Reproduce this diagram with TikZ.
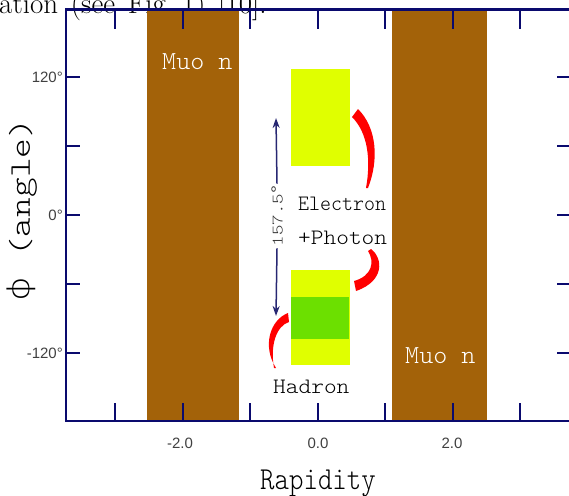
\documentclass[tikz,border=0pt]{standalone}
\usepackage{fontspec}
\usepackage{graphicx}
\newfontfamily\sansf{Liberation Sans}
\newfontfamily\dejavlt{DejaVu Sans ExtraLight}
\newfontfamily\lmlight{Latin Modern Mono Light}
\usetikzlibrary{arrows.meta}
\definecolor{muonbrown}{RGB}{163,98,9}
\definecolor{emyellow}{RGB}{224,255,0}
\definecolor{hadgreen}{RGB}{108,224,0}
\definecolor{axisnavy}{RGB}{10,10,110}
\definecolor{swoosh}{RGB}{255,0,0}
\newcommand\mtxt[3]{\scalebox{#1}[1]{\fontsize{#2}{#2}\selectfont\lmlight #3}}
\tikzset{
  band/.style={fill=muonbrown, draw=none},
  calo/.style={fill=emyellow, draw=none},
  hcal/.style={fill=hadgreen, draw=none},
  frameline/.style={draw=axisnavy, line width=2.8pt},
  tickline/.style={draw=axisnavy, line width=2.2pt},
  ticklab/.style={inner sep=0pt, text=black!75, font=\fontsize{15}{15}\selectfont\sansf},
  lab/.style={inner sep=0pt, anchor=base west},
  redfill/.style={fill=swoosh, draw=none},
  spanarrow/.style={draw=axisnavy!75!gray, line width=1.5pt, -{Stealth[length=10pt,width=7pt,fill=axisnavy]}}
}
\begin{document}
\begin{tikzpicture}[x=1pt,y=-1pt]
\useasboundingbox (0,0) rectangle (569,495);
\clip (0,0) rectangle (569,495);
% stray caption text
\node[inner sep=0pt, anchor=base west, font=\fontsize{29}{29}\selectfont] (cap) at (-1,14)
  {ation\hspace{4pt} (see\hspace{4pt} Fig.~1)\hspace{4pt} [10].};
% muon bands
\fill[band] (147,9) rectangle (239,421);
\fill[band] (392,9) rectangle (487,421);
% calorimeter boxes
\fill[calo] (291,69) rectangle (350,166);
\fill[calo] (291,270) rectangle (350,365);
\fill[hcal] (291,297) rectangle (349,339);
% frame
\draw[frameline] (571,9.5) -- (66,9.5) -- (66,421) -- (571,421);
% x ticks
\foreach \x in {115,183,250,318,385,453,520} {
  \draw[tickline] (\x,421) -- (\x,403);
  \draw[tickline] (\x,9.5) -- (\x,29);
}
% y ticks
\foreach \y in {77,146,215,284,353} {
  \draw[tickline] (66,\y) -- (80,\y);
  \draw[tickline] (557,\y) -- (571,\y);
}
% tick labels
\node[ticklab, anchor=east] (y120) at (63,77) {120°};
\node[ticklab, anchor=east] (y0) at (63,215) {0°};
\node[ticklab, anchor=east] (ym120) at (63,353) {-120°};
\node[ticklab] (xm2) at (180,443) {-2.0};
\node[ticklab] (x0) at (318,443) {0.0};
\node[ticklab] (x2) at (452,443) {2.0};
% axis titles
\node[inner sep=0pt, anchor=base] (xtitle) at (318,489) {\mtxt{0.86}{32}{Rapidity}};
\node[inner sep=0pt, rotate=90] (ytitle) at (22,210)
  {\scalebox{1.25}[1]{\fontsize{30}{30}\selectfont{\dejavlt ϕ}\lmlight\ (angle)}};
% muon labels
\node[lab, text=white] (mu1) at (162,69) {\mtxt{1.03}{26}{Muo n}};
\node[lab, text=white] (mu2) at (405,363) {\mtxt{1.03}{26}{Muo n}};
% particle labels
\node[lab] (el) at (298,210) {\mtxt{0.95}{22}{Electron}};
\node[lab] (ph) at (298,244) {\mtxt{1.1}{22}{+Photon}};
\node[lab] (ha) at (273,393) {\mtxt{1.1}{22}{Hadron}};
% angular span
\node[inner sep=2pt, rotate=90, text=black!80] (span) at (277,216)
  {\mtxt{1.25}{16}{157.5{\sansf °}}};
\coordinate (spantop) at (276,118);
\coordinate (spanbot) at (276,316);
\draw[spanarrow] (span.east) -- (spantop);
\draw[spanarrow] (span.west) -- (spanbot);
% red swooshes
\fill[redfill] (358,109) .. controls (377,128) and (379,160) .. (368,188)
  -- (366,188) .. controls (371,160) and (368,133) .. (352,117) -- cycle;
\fill[redfill] (371,249) .. controls (383,258) and (385,281) .. (356,291)
  -- (354,281) .. controls (372,276) and (375,262) .. (368,251) -- cycle;
\fill[redfill] (288,313) .. controls (270,320) and (262,346) .. (276,368)
  -- (274,368) .. controls (270,346) and (276,326) .. (289,322) -- cycle;
\end{tikzpicture}
\end{document}
